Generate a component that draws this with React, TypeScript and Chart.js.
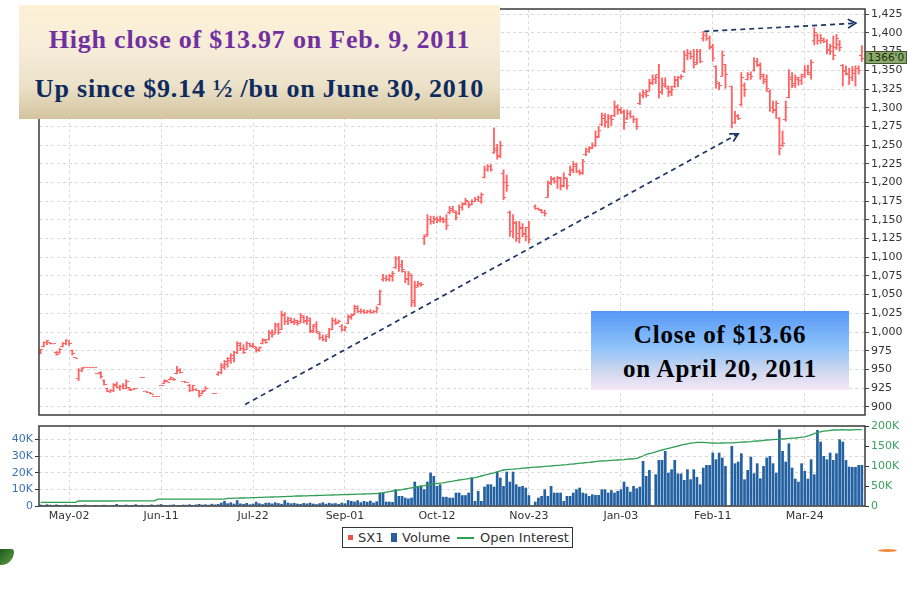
import React, { useEffect, useRef } from 'react';
import { Chart, registerables } from 'chart.js';

Chart.register(...registerables);

// ---------- axis labels ----------
const tickBars = [9, 38, 67, 96, 125, 154, 183, 212, 241];
const tickLabels = ['May-02', 'Jun-11', 'Jul-22', 'Sep-01', 'Oct-12', 'Nov-23', 'Jan-03', 'Feb-11', 'Mar-24'];
const priceTicks = [900, 925, 950, 975, 1000, 1025, 1050, 1075, 1100, 1125, 1150, 1175, 1200, 1225, 1250, 1275, 1300, 1325, 1350, 1375, 1400, 1425];
const volTicks = [0, 10, 20, 30, 40];
const oiTicks = [0, 50, 100, 150, 200];

// ---------- SX1 daily bars (cents/bu) ----------
const opens = [
  971, 981, 986, 986, 984, 973, 972, 980, 985, 988,
  975, 966, 938, 949, 953, 953, 952, 953, 944, 946,
  935, 924, 921, 922, 930, 926, 927, 929, 926, 923,
  924, null, 939, 921, 919, 918, 914, 914, 929, 931,
  934, 936, 937, 945, 949, 934, 933, 929, 922, 923,
  922, 918, 922, null, null, 918, 943, 946, 953, 957,
  962, 965, 973, 982, 978, 976, 984, 981, 978, 976,
  985, 988, 990, 998, 1000, 1008, 1003, 1022, 1014, 1016,
  1014, 1013, 1014, 1020, 1015, 1016, 1002, 1010, 998, 993,
  990, 996, 1004, 1015, 1013, 1008, 1004, 1012, 1020, 1024,
  1032, 1028, 1027, 1026, 1028, 1026, 1028, 1037, 1070, 1072,
  1070, 1074, 1086, 1098, 1090, 1081, 1072, 1076, 1042, 1062,
  1064, 1125, 1130, 1150, 1148, 1150, 1150, 1150, 1150, 1160,
  1163, 1160, 1158, 1166, 1172, 1174, 1170, 1175, 1177, 1174,
  1207, 1218, 1222, 1240, 1245, 1236, 1212, 1200, 1160, 1135,
  1146, 1132, 1138, 1132, 1140, null, 1168, 1165, 1163, 1160,
  1180, 1200, 1204, 1201, 1205, 1196, 1205, 1210, 1216, 1222,
  1214, 1213, 1237, 1244, 1247, 1250, 1262, 1278, 1286, 1281,
  1286, 1290, 1300, 1296, 1295, 1285, 1292, 1288, 1284, 1305,
  1316, 1318, 1322, 1334, 1338, 1345, 1322, 1333, 1326, 1322,
  1328, 1336, 1340, 1348, 1370, 1372, 1368, 1360, 1375, 1392,
  1396, 1392, 1380, 1355, 1332, 1342, 1358, null, 1328, 1280,
  1288, 1304, 1330, 1338, 1345, 1350, 1362, 1356, 1344, 1335,
  1322, 1300, 1296, 1286, 1250, 1284, 1313, 1338, 1330, 1338,
  1336, 1344, 1350, 1345, 1390, 1396, 1390, 1390, 1388, 1378,
  1375, 1380, 1385, 1356, 1350, 1344, 1340, 1346, 1352, 1370,
];
const highs = [
  977, 987, 989, 986, 984, 974, 978, 986, 990, 988,
  976, 966, 951, 952, 953, 953, 952, 953, 944, 947,
  936, 925, 923, 931, 933, 929, 931, 936, 926, 923,
  924, null, 939, 921, 919, 918, 914, 914, 929, 936,
  935, 940, 938, 954, 951, 934, 933, 930, 929, 924,
  922, 922, 927, null, null, 918, 947, 958, 962, 966,
  971, 974, 987, 986, 983, 987, 985, 985, 980, 980,
  991, 990, 1002, 1003, 1012, 1012, 1028, 1026, 1020, 1019,
  1018, 1016, 1025, 1022, 1021, 1019, 1010, 1014, 1000, 996,
  996, 1005, 1019, 1018, 1016, 1010, 1008, 1023, 1024, 1036,
  1035, 1031, 1030, 1029, 1030, 1029, 1034, 1056, 1077, 1076,
  1077, 1081, 1101, 1101, 1096, 1081, 1081, 1077, 1068, 1068,
  1066, 1130, 1157, 1155, 1155, 1154, 1155, 1153, 1157, 1168,
  1168, 1162, 1170, 1173, 1179, 1175, 1177, 1180, 1182, 1186,
  1222, 1224, 1224, 1273, 1251, 1255, 1217, 1210, 1162, 1157,
  1148, 1148, 1145, 1140, 1148, null, 1170, 1166, 1164, 1163,
  1202, 1208, 1207, 1208, 1207, 1213, 1206, 1222, 1228, 1226,
  1217, 1231, 1246, 1248, 1253, 1269, 1275, 1293, 1292, 1291,
  1290, 1309, 1304, 1300, 1297, 1297, 1296, 1289, 1286, 1320,
  1324, 1324, 1338, 1344, 1344, 1358, 1340, 1340, 1329, 1329,
  1342, 1342, 1344, 1376, 1378, 1376, 1378, 1378, 1378, 1402,
  1400, 1396, 1385, 1356, 1334, 1376, 1358, null, 1329, 1295,
  1291, 1347, 1333, 1347, 1348, 1367, 1366, 1360, 1345, 1344,
  1324, 1309, 1309, 1287, 1269, 1309, 1351, 1347, 1344, 1341,
  1345, 1356, 1357, 1364, 1407, 1399, 1398, 1393, 1391, 1385,
  1396, 1398, 1390, 1358, 1356, 1353, 1355, 1356, 1356, 1383,
];
const lows = [
  971, 980, 983, 984, 984, 969, 971, 980, 983, 982,
  969, 965, 935, 947, 953, 953, 952, 953, 944, 938,
  929, 920, 919, 920, 925, 922, 924, 924, 922, 923,
  924, null, 939, 921, 919, 917, 914, 914, 929, 931,
  933, 936, 935, 944, 945, 934, 933, 920, 921, 922,
  913, 917, 922, null, null, 918, 942, 944, 950, 953,
  958, 960, 971, 975, 971, 976, 980, 979, 973, 974,
  984, 985, 989, 993, 998, 997, 1003, 1010, 1010, 1012,
  1010, 1009, 1012, 1012, 1010, 999, 999, 999, 990, 988,
  987, 992, 1003, 1010, 1012, 1001, 1001, 1011, 1017, 1023,
  1026, 1025, 1025, 1025, 1025, 1025, 1026, 1036, 1068, 1068,
  1068, 1068, 1085, 1081, 1080, 1066, 1063, 1034, 1034, 1060,
  1061, 1117, 1128, 1144, 1145, 1146, 1147, 1146, 1137, 1158,
  1160, 1150, 1157, 1163, 1170, 1166, 1170, 1174, 1175, 1172,
  1206, 1215, 1215, 1239, 1231, 1233, 1177, 1188, 1128, 1126,
  1121, 1119, 1127, 1122, 1119, null, 1164, 1163, 1159, 1155,
  1180, 1197, 1199, 1192, 1190, 1194, 1191, 1209, 1213, 1213,
  1210, 1211, 1236, 1240, 1245, 1248, 1260, 1276, 1274, 1273,
  1276, 1288, 1291, 1292, 1271, 1284, 1286, 1280, 1271, 1304,
  1313, 1314, 1322, 1331, 1332, 1313, 1318, 1327, 1315, 1316,
  1327, 1328, 1338, 1347, 1364, 1365, 1353, 1358, 1360, 1389,
  1390, 1378, 1362, 1326, 1324, 1342, 1326, null, 1273, 1279,
  1284, 1302, 1315, 1337, 1338, 1349, 1355, 1338, 1332, 1322,
  1295, 1293, 1286, 1237, 1248, 1282, 1313, 1327, 1327, 1330,
  1331, 1340, 1344, 1338, 1384, 1385, 1386, 1387, 1372, 1371,
  1364, 1378, 1376, 1329, 1344, 1331, 1336, 1329, 1345, 1362,
];
const closes = [
  976, 986, 988, 984, 984, 970, 977, 985, 988, 984,
  971, 965, 949, 951, 953, 953, 952, 953, 944, 940,
  930, 921, 922, 929, 926, 927, 925, 934, 922, 923,
  924, null, 939, 921, 919, 917, 914, 914, 929, 935,
  933, 939, 936, 950, 946, 934, 933, 922, 928, 922,
  915, 921, 925, null, null, 918, 946, 955, 960, 964,
  968, 972, 984, 978, 973, 985, 982, 980, 975, 979,
  990, 986, 1000, 996, 1010, 999, 1024, 1014, 1018, 1013,
  1016, 1011, 1022, 1014, 1018, 1001, 1008, 1001, 992, 990,
  994, 1003, 1016, 1012, 1014, 1003, 1006, 1021, 1022, 1034,
  1028, 1027, 1026, 1028, 1026, 1027, 1032, 1054, 1071, 1070,
  1075, 1078, 1098, 1088, 1084, 1070, 1078, 1040, 1060, 1065,
  1063, 1128, 1150, 1148, 1152, 1149, 1152, 1148, 1142, 1165,
  1162, 1153, 1167, 1170, 1176, 1169, 1175, 1177, 1180, 1184,
  1218, 1222, 1217, 1243, 1235, 1250, 1180, 1196, 1135, 1145,
  1125, 1140, 1130, 1128, 1124, null, 1165, 1164, 1160, 1158,
  1198, 1205, 1201, 1206, 1194, 1207, 1196, 1218, 1224, 1215,
  1212, 1228, 1242, 1246, 1250, 1260, 1270, 1290, 1280, 1288,
  1284, 1302, 1298, 1294, 1280, 1292, 1288, 1284, 1275, 1316,
  1320, 1316, 1333, 1338, 1341, 1320, 1330, 1328, 1320, 1325,
  1338, 1340, 1342, 1370, 1372, 1368, 1358, 1375, 1362, 1397,
  1392, 1382, 1366, 1335, 1330, 1370, 1345, null, 1280, 1290,
  1286, 1340, 1325, 1345, 1342, 1362, 1358, 1342, 1338, 1326,
  1300, 1298, 1305, 1245, 1252, 1300, 1340, 1332, 1340, 1336,
  1342, 1350, 1347, 1360, 1400, 1390, 1392, 1389, 1376, 1382,
  1370, 1392, 1380, 1348, 1346, 1340, 1350, 1352, 1350, 1366,
];

// ---------- volume (thousands of contracts) ----------
const volumes = [
  0.8, 0.6, 1, 0.7, 0.5, 0.9, 0.6, 0.4, 0.8, 0.5,
  0.4, 0.6, 0.3, 0.5, 0.8, 0.4, 0.3, 0.6, 0.5, 0.4,
  0.7, 0.3, 0.5, 0.6, 1.2, 0.5, 0.5, 0.8, 0.4, 0.6,
  1.0, 0.5, 0.7, 0.4, 0.6, 0.9, 0.5, 0.8, 1.1, 0.6,
  0.4, 0.7, 0.9, 0.5, 0.6, 0.8, 0.7, 1.0, 0.6, 0.9,
  1.2, 0.8, 1.0, 0.7, 1.3, 0.9, 1.2, 2.0, 3.0, 1.6,
  2.2, 1.4, 3.5, 1.5, 1.2, 1.8, 1.0, 1.4, 2.5, 1.6,
  1.1, 1.9, 2.0, 1.5, 2.2, 1.7, 1.3, 3.5, 2.0, 1.6,
  1.8, 1.4, 1.2, 1.8, 1.5, 2.0, 1.4, 1.1, 1.6, 2.2,
  1.3, 1.9, 1.5, 1.7, 1.2, 2.0, 1.6, 3.5, 3.0, 2.6,
  3.4, 2.2, 3.0, 2.5, 3.2, 2.0, 2.8, 8.0, 8.2, 2.6,
  2.6, 2.4, 10, 6, 6, 5, 4.5, 5, 14.6, 12,
  12, 10, 14.6, 20, 18, 12, 13, 5.5, 5.5, 5,
  5, 8, 8, 6.5, 6.5, 8, 17, 3, 9, 3,
  11.6, 13, 13, 11.6, 20.6, 17, 12, 20.6, 14.6, 20.6,
  13, 11.6, 12, 11, 6.5, null, 2.6, 5, 6, 10,
  6, 12, 8, 8, 8, 3, 6, 6, 8, 10,
  11, 8, 7.5, 6, 7, 6.6, 6.6, 10, 10, 8,
  9.5, 8, 9, 10, 14.6, 11.6, 8.6, 12, 10.6, 11.6,
  27, 18, 21.6, null, 19, 27.6, 27.6, 33, 20, 22,
  27.6, 19.5, 19.5, 15.6, 22, 16, 22, 17.4, 13, 23,
  24.6, 24.6, 32, 28, 32, 29, 24, null, 36, 25.6,
  26.6, 31.6, 16, 21.6, 29.6, 19.6, 25.6, 16.6, 24, 29,
  30, 25.6, 20, 46, 33, 26.6, 37.6, 23, 16.4, 14.6,
  25.6, 21, 16.4, 28, 19, 45.6, 38.6, 30, 28, 32,
  27.6, 31.6, 40, 38.6, 27.6, 23.6, 23.4, 23.4, 24.6, 24.6,
];

// ---------- open interest (thousands) ----------
const openInterest = [
  9, 9, 9, 9, 9, 9, 9, 9, 9, 9,
  9, 9, 12.5, 12.5, 12.5, 12.5, 12.5, 12.5, 12.5, 12.5,
  12.5, 12.5, 12.5, 12.5, 12.8, 12.8, 12.8, 12.8, 12.8, 12.8,
  12.8, 12.8, 12.8, 12.8, 12.8, 12.8, 12.8, 17, 17, 17,
  17, 17, 17, 17, 17, 17, 17, 17, 17, 17,
  17, 17, 17, 17, 17, 17, 17, 17, 17, 19,
  19, 19.5, 19.5, 20, 20, 20.5, 20.5, 21, 21, 21.5,
  21.5, 22, 22, 22.5, 23, 23, 23.5, 23.5, 24, 24,
  24.5, 25, 25, 25.2, 25.5, 25.7, 26, 26.2, 26.5, 26.7,
  27, 27.2, 27.5, 27.7, 28, 28.2, 28.5, 28.7, 29, 29.2,
  29.5, 29.7, 30, 30.2, 30.5, 30.7, 31, 32, 33, 34.5,
  36, 37.5, 39, 40, 41, 42.5, 44, 45.5, 47, 48.5,
  50, 51, 52.5, 54, 55, 56, 57, 58, 59.5, 61,
  62, 63.5, 65, 66, 67, 68.5, 70, 71, 73, 75,
  77, 79, 81, 83, 85.5, 88, 90, 91, 91.5, 92,
  93, 93.5, 94.5, 95, 96, 96.5, 97, 97.5, 98, 99,
  99.5, 100, 101, 101.5, 102, 103, 103.5, 104.5, 105, 106,
  107, 107.5, 108.5, 109, 110, 111, 112, 112.5, 113, 113.5,
  114, 114.5, 115, 115.5, 116, 117, 117.5, 118, 119, 122,
  125, 129, 131, 133, 135.5, 138, 140, 142, 144, 146,
  148, 150, 152, 154, 155.5, 157, 158, 159, 159, 159,
  158.5, 158, 157.5, 157, 157, 157.5, 158, 158, 158, 158.5,
  159, 159.5, 160, 160.5, 161, 162, 162.5, 163, 164, 165,
  165.5, 166, 166.5, 167, 167.5, 168, 169, 169.5, 170, 171,
  172, 173, 175, 178, 181, 184, 185.5, 187, 188, 189,
  190, 190, 190.5, 191, 190.5, 190, 190.5, 191, 191, 191,
];

// ---------- annotation arrows (bar index, price) ----------
const trendFrom = [64.5, 903];
const trendTo = [220, 1265];
const peakFrom = [209.3, 1402];
const peakTo = [257.1, 1413];

const GRID = '#d9d9d9';
const PRICE_RED = '#ff6464';

Chart.defaults.font.family = "'DejaVu Sans', Verdana, sans-serif";
Chart.defaults.font.size = 11;
Chart.defaults.color = '#333';

const framePlugin = {
  id: 'frame',
  afterDatasetsDraw(chart: any) {
    const { ctx, chartArea: a } = chart;
    ctx.save();
    ctx.strokeStyle = '#3a3a3a';
    ctx.lineWidth = 1.5;
    ctx.strokeRect(a.left, a.top, a.right - a.left, a.bottom - a.top);
    ctx.restore();
  },
};

const arrowPlugin = {
  id: 'arrows',
  afterDatasetsDraw(chart: any) {
    const xs = chart.scales.x;
    const ys = chart.scales.y;
    const ctx = chart.ctx;
    const pairs = [[trendFrom, trendTo], [peakFrom, peakTo]];
    pairs.forEach(([f, t]) => {
      const x1 = xs.getPixelForValue(f[0]);
      const y1 = ys.getPixelForValue(f[1]);
      const x2 = xs.getPixelForValue(t[0]);
      const y2 = ys.getPixelForValue(t[1]);
      ctx.save();
      ctx.strokeStyle = '#1c3566';
      ctx.lineWidth = 1.7;
      ctx.setLineDash([5, 4]);
      ctx.beginPath();
      ctx.moveTo(x1, y1);
      ctx.lineTo(x2, y2);
      ctx.stroke();
      ctx.setLineDash([]);
      const ang = Math.atan2(y2 - y1, x2 - x1);
      const L = 9;
      ctx.beginPath();
      ctx.moveTo(x2 - L * Math.cos(ang - 0.5), y2 - L * Math.sin(ang - 0.5));
      ctx.lineTo(x2, y2);
      ctx.lineTo(x2 - L * Math.cos(ang + 0.5), y2 - L * Math.sin(ang + 0.5));
      ctx.stroke();
      ctx.restore();
    });
  },
};

function tickImage(side: 'left' | 'right') {
  const c = document.createElement('canvas');
  c.width = 5;
  c.height = 1;
  const g = c.getContext('2d')!;
  g.fillStyle = PRICE_RED;
  if (side === 'left') g.fillRect(0, 0, 2, 1);
  else g.fillRect(3, 0, 2, 1);
  return c;
}

export default function App() {
  const priceRef = useRef<HTMLCanvasElement>(null);
  const volRef = useRef<HTMLCanvasElement>(null);

  useEffect(() => {
    const idx = closes.map((_, i) => i);
    const rangeData = idx.filter((i) => highs[i] != null).map((i) => ({ x: i, y: [lows[i], highs[i]] }));
    const openData = idx.filter((i) => opens[i] != null).map((i) => ({ x: i, y: opens[i] }));
    const closeData = idx.filter((i) => closes[i] != null).map((i) => ({ x: i, y: closes[i] }));
    const volData = idx.filter((i) => volumes[i] != null).map((i) => ({ x: i, y: volumes[i] }));
    const oiData = idx.map((i) => ({ x: i, y: openInterest[i] }));

    const xTicks = (s: any) => {
      s.ticks = tickBars.map((v) => ({ value: v }));
    };

    const c1 = new Chart(priceRef.current!, {
      type: 'bar',
      data: {
        datasets: [
          { type: 'bar', label: 'SX1', data: rangeData as any, backgroundColor: PRICE_RED, barThickness: 1.2 },
          { type: 'scatter', label: 'open', data: openData as any, pointStyle: tickImage('left') as any, pointRadius: 2 },
          { type: 'scatter', label: 'close', data: closeData as any, pointStyle: tickImage('right') as any, pointRadius: 2 },
        ],
      },
      options: {
        responsive: false,
        animation: false,
        events: [],
        layout: { padding: { left: 39, top: 9, right: 0, bottom: 5 } },
        plugins: { legend: { display: false }, tooltip: { enabled: false } },
        scales: {
          x: {
            type: 'linear', min: -0.5, max: 260, offset: false,
            afterBuildTicks: xTicks,
            afterFit: (s: any) => { s.height = 0; },
            ticks: { display: false },
            grid: { color: GRID, drawTicks: false, offset: false },
            border: { display: false, dash: [3, 3] },
          },
          y: {
            position: 'right', min: 889, max: 1432,
            afterBuildTicks: (s: any) => { s.ticks = priceTicks.map((v) => ({ value: v })); },
            afterFit: (s: any) => { s.width = 42; s.paddingTop = 0; s.paddingBottom = 0; },
            ticks: { callback: (v: any) => Number(v).toLocaleString('en-US'), padding: 2, color: '#333' },
            grid: { color: GRID, tickColor: '#444', tickLength: 4 },
            border: { display: false, dash: [3, 3] },
          },
        },
      } as any,
      plugins: [framePlugin, arrowPlugin],
    });

    const c2 = new Chart(volRef.current!, {
      type: 'bar',
      data: {
        datasets: [
          { type: 'line', label: 'Open Interest', data: oiData as any, yAxisID: 'yOI', borderColor: '#2f9e55', borderWidth: 1.3, pointRadius: 0, order: 1 },
          { type: 'bar', label: 'Volume', data: volData as any, yAxisID: 'yVol', backgroundColor: '#2461a1', barPercentage: 0.85, categoryPercentage: 1, order: 2 },
        ],
      },
      options: {
        responsive: false,
        animation: false,
        events: [],
        layout: { padding: { left: 0, top: 6, right: 0, bottom: 0 } },
        plugins: { legend: { display: false }, tooltip: { enabled: false } },
        scales: {
          x: {
            type: 'linear', min: -0.5, max: 260, offset: false,
            afterBuildTicks: xTicks,
            afterFit: (s: any) => { s.height = 24; },
            ticks: {
              callback: (v: any) => { const k = tickBars.indexOf(Number(v)); return k >= 0 ? tickLabels[k] : ''; },
              autoSkip: false, maxRotation: 0, padding: 4, color: '#333',
            },
            grid: { color: GRID, drawTicks: false, offset: false },
            border: { display: false, dash: [3, 3] },
          },
          yVol: {
            position: 'left', min: 0, max: 48,
            afterBuildTicks: (s: any) => { s.ticks = volTicks.map((v) => ({ value: v })); },
            afterFit: (s: any) => { s.width = 39; s.paddingTop = 0; s.paddingBottom = 0; },
            ticks: { callback: (v: any) => (Number(v) === 0 ? '0' : v + 'K'), color: '#3a73b8', padding: 2 },
            grid: { color: GRID, tickColor: '#333', tickLength: 4 },
            border: { display: false, dash: [3, 3] },
          },
          yOI: {
            position: 'right', min: 0, max: 200,
            afterBuildTicks: (s: any) => { s.ticks = oiTicks.map((v) => ({ value: v })); },
            afterFit: (s: any) => { s.width = 42; s.paddingTop = 0; s.paddingBottom = 0; },
            ticks: { callback: (v: any) => (Number(v) === 0 ? '0' : v + 'K'), color: '#3aa35c', padding: 2 },
            grid: { drawOnChartArea: false, tickColor: '#333', tickLength: 4 },
            border: { display: false },
          },
        },
      } as any,
      plugins: [framePlugin],
    });

    return () => {
      c1.destroy();
      c2.destroy();
    };
  }, []);

  const serif = "'Liberation Serif', 'Times New Roman', serif";
  const legendText: React.CSSProperties = { position: 'absolute', top: 0, lineHeight: '19px', fontSize: 13, color: '#333' };

  return (
    <div style={{ position: 'absolute', left: 0, top: 0, width: 907, height: 595, background: '#fff', overflow: 'hidden', fontFamily: "'DejaVu Sans', sans-serif" }}>
      <canvas ref={priceRef} width={907} height={420} style={{ position: 'absolute', left: 0, top: 0 }} />
      <canvas ref={volRef} width={907} height={110} style={{ position: 'absolute', left: 0, top: 420 }} />

      {/* last price marker */}
      <div style={{ position: 'absolute', left: 865, top: 51, width: 42, height: 13, boxSizing: 'border-box', background: '#8aab68', border: '1px solid #44533a', color: '#1d2a12', fontSize: 10.5, lineHeight: '11px', textAlign: 'center' }}>1366'0</div>

      {/* headline box */}
      <div style={{ position: 'absolute', left: 19, top: 5, width: 481, height: 114, background: 'linear-gradient(to bottom, #fef1d6 0%, #f6ecd8 40%, #ece2c9 70%, #d3c4a0 100%)', fontFamily: serif, fontWeight: 'bold' }}>
        <div style={{ position: 'absolute', left: 0, width: '100%', top: 21.5, textAlign: 'center', fontSize: 26, lineHeight: '26px', letterSpacing: 0.8, color: '#7030a0', whiteSpace: 'nowrap' }}>High close of $13.97 on Feb. 9, 2011</div>
        <div style={{ position: 'absolute', left: 0, width: '100%', top: 71, textAlign: 'center', fontSize: 26, lineHeight: '26px', letterSpacing: 0.8, color: '#0e2a5e', whiteSpace: 'nowrap' }}>Up since $9.14 ½ /bu on June 30, 2010</div>
      </div>

      {/* close box */}
      <div style={{ position: 'absolute', left: 591, top: 311, width: 258, height: 79, background: 'linear-gradient(to bottom, #5797f6 0%, #8cc2fb 45%, #ccd6ee 75%, #f6e7f6 100%)', fontFamily: serif, fontWeight: 'bold', color: '#000' }}>
        <div style={{ position: 'absolute', left: 0, width: '100%', top: 11, textAlign: 'center', fontSize: 25, lineHeight: '25px', letterSpacing: 0.8, whiteSpace: 'nowrap' }}>Close of $13.66</div>
        <div style={{ position: 'absolute', left: 0, width: '100%', top: 45, textAlign: 'center', fontSize: 25, lineHeight: '25px', letterSpacing: 0.8, whiteSpace: 'nowrap' }}>on April 20, 2011</div>
      </div>

      {/* legend */}
      <div style={{ position: 'absolute', left: 342, top: 527, width: 231, height: 21, boxSizing: 'border-box', border: '1px solid #333', background: '#fff' }}>
        <div style={{ position: 'absolute', left: 5, top: 7, width: 5, height: 5, background: '#f05050' }} />
        <div style={{ ...legendText, left: 15 }}>SX1</div>
        <div style={{ position: 'absolute', left: 48, top: 5, width: 6, height: 9, background: '#2a5f9e' }} />
        <div style={{ ...legendText, left: 59 }}>Volume</div>
        <div style={{ position: 'absolute', left: 114, top: 9, width: 17, height: 1.5, background: '#2f9e55' }} />
        <div style={{ ...legendText, left: 137 }}>Open Interest</div>
      </div>

      {/* slide decorations */}
      <div style={{ position: 'absolute', left: 0, top: 549, width: 14, height: 16, background: 'linear-gradient(135deg, #1f5a1f, #5f9f45)', borderRadius: '0 3px 14px 0' }} />
      <div style={{ position: 'absolute', left: 878, top: 549, width: 19, height: 3, background: '#f08a3a', borderRadius: '50%' }} />
    </div>
  );
}
